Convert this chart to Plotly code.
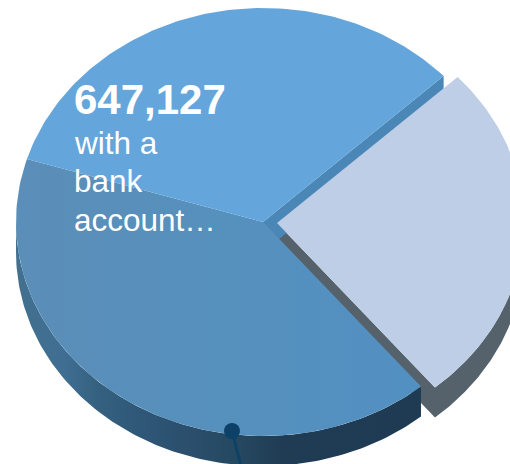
import numpy as np
import plotly.graph_objects as go

# Data
categories = ["With a bank account (upper)", "With a bank account (lower)", "Detached slice"]
values = [33.3, 40.8, 25.9]
headline = "647,127"
caption_lines = ["with a", "bank", "account…"]

top_colors = ["#64a5dc", None, "#bdcee6"]
CX, CY, RX, RY, DEPTH = 263, 222, 247, 214, 30
START = 43.0
EXPLODE = (14, 1)

shares = np.array(values) / sum(values) * 360
edges = START + np.concatenate([[0], np.cumsum(shares)])


def rim(a0, a1, dx=0, dy=0):
    t = np.radians(np.linspace(a0, a1, 120))
    return CX + dx + RX * np.cos(t), CY + dy - RY * np.sin(t)


def wedge(a0, a1, dx=0, dy=0):
    x, y = rim(a0, a1, dx, dy)
    return np.r_[CX + dx, x, CX + dx], np.r_[CY + dy, y, CY + dy]


def wall(a0, a1, dx=0, dy=0):
    x, y = rim(a0, a1, dx, dy)
    return np.r_[x, x[::-1]], np.r_[y, y[::-1] + DEPTH]


def cut_wall(a, dx=0, dy=0):
    x, y = rim(a, a, dx, dy)
    ax, ay = CX + dx, CY + dy
    return [ax, x[0], x[0], ax, ax], [ay, y[0], y[0] + DEPTH, ay + DEPTH, ay]


fig = go.Figure()


def poly(xy, color=None, gradient=None):
    kw = dict(x=xy[0], y=xy[1], mode="lines", fill="toself", line=dict(width=0),
              hoverinfo="skip", showlegend=False)
    if gradient:
        kw["fillgradient"] = dict(type="horizontal", colorscale=gradient)
    else:
        kw["fillcolor"] = color
    fig.add_trace(go.Scatter(**kw))


a = edges
GRAY = "#55626b"
# detached slice walls (only the front-facing part of the rim shows)
poly(cut_wall(a[2], *EXPLODE), GRAY)
poly(wall(a[2], 360, *EXPLODE), GRAY)
# main pie walls
poly(cut_wall(a[0]), "#4a87b7")
poly(wall(180, a[2]), gradient=[
    [0, "#42708f"], [0.12, "#3f6e92"], [0.2, "#35617f"], [0.3, "#2f5878"],
    [0.42, "#2b4f6d"], [0.55, "#254860"], [0.66, "#1f3c54"], [1, "#1f3b53"]])
# main pie tops
poly(wedge(a[1], a[2]), gradient=[[0, "#5b8eb8"], [0.5, "#5690bd"], [1, "#5290c2"]])
poly(wedge(a[0], a[1]), top_colors[0])
# detached slice top
poly(wedge(a[2], a[3], *EXPLODE), top_colors[2])

# pin
fig.add_trace(go.Scatter(x=[232, 241], y=[431, 466], mode="lines",
                         line=dict(color="#0e4168", width=3),
                         hoverinfo="skip", showlegend=False))
fig.add_trace(go.Scatter(x=[232], y=[431], mode="markers",
                         marker=dict(color="#0e4168", size=16),
                         hoverinfo="skip", showlegend=False))

FONT = "Liberation Sans"
fig.add_annotation(x=75, y=99, text=f"<b>{headline}</b>", showarrow=False, xanchor="left",
                   yanchor="middle", font=dict(family=FONT, size=42, color="white"),
                   xshift=-3)
for line, yy in zip(caption_lines, [143, 181, 220]):
    fig.add_annotation(x=75, y=yy, text=line, showarrow=False, xanchor="left", yanchor="middle",
                       font=dict(family=FONT, size=31.5, color="white"), xshift=-3)

fig.update_layout(
    width=510, height=464, margin=dict(l=0, r=0, t=0, b=0),
    paper_bgcolor="white", plot_bgcolor="white", showlegend=False,
    xaxis=dict(range=[0, 510], visible=False, fixedrange=True),
    yaxis=dict(range=[464, 0], visible=False, fixedrange=True),
)
fig.write_html("out.html", config={"displayModeBar": False},
               post_script="document.body.style.margin='0';document.body.style.overflow='hidden';")
